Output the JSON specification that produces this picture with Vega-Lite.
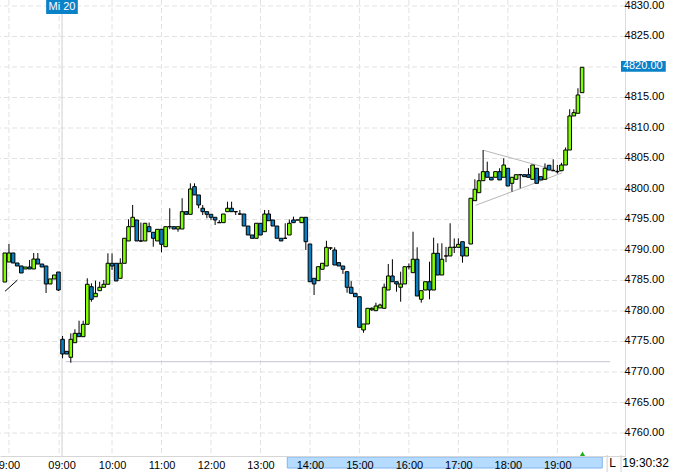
{
"$schema":"https://vega.github.io/schema/vega-lite/v6.json",
"width":625,"height":456,"autosize":"none",
"padding":{"left":0,"top":0,"right":50,"bottom":16},
"background":"white",
"config":{"view":{"stroke":null},"font":"Liberation Sans"},
"datasets":{
"hours":[{"g":-13},{"g":-0.84},{"g":12},{"g":24},{"g":36},{"g":48},{"g":60},{"g":72},{"g":84},{"g":96},{"g":108},{"g":120}],
"levels":[{"p":4760},{"p":4765},{"p":4770},{"p":4775},{"p":4780},{"p":4785},{"p":4790},{"p":4795},{"p":4800},{"p":4805},{"p":4810},{"p":4815},{"p":4820},{"p":4825},{"p":4830}],
"day":[{"d":-0.12}],
"hl":[{"x1":0.76,"x2":132.8,"y":4771.69}],
"lines":[{"k":"tri","x1":102.1,"y1":4806.34,"x2":121.1,"y2":4802.79},{"k":"tri","x1":100.2,"y1":4797.33,"x2":121.1,"y2":4802.62},{"k":"pen","x1":-13.96,"y1":4783.23,"x2":-10.93,"y2":4785.08}],
"candles":[
{"i":-14,"o":4784.75,"h":4789.51,"l":4784.75,"c":4789.51},
{"i":-13,"o":4788.03,"h":4790.98,"l":4788.03,"c":4789.51},
{"i":-12,"o":4789.51,"h":4789.51,"l":4787.87,"c":4787.87},
{"i":-11,"o":4787.87,"h":4787.87,"l":4787.38,"c":4787.38},
{"i":-10,"o":4787.38,"h":4787.38,"l":4786.23,"c":4786.23},
{"i":-9,"o":4786.89,"h":4787.21,"l":4786.89,"c":4787.21},
{"i":-8,"o":4787.21,"h":4788.36,"l":4786.89,"c":4786.89},
{"i":-7,"o":4786.89,"h":4789.51,"l":4786.89,"c":4788.52},
{"i":-6,"o":4788.52,"h":4789.51,"l":4787.7,"c":4787.7},
{"i":-5,"o":4787.7,"h":4787.7,"l":4787.21,"c":4787.21},
{"i":-4,"o":4787.38,"h":4787.38,"l":4782.95,"c":4784.43},
{"i":-3,"o":4784.43,"h":4785.25,"l":4784.43,"c":4785.25},
{"i":-2,"o":4785.25,"h":4785.9,"l":4785.25,"c":4785.9},
{"i":-1,"o":4786.39,"h":4786.39,"l":4783.28,"c":4783.44},
{"i":0,"o":4775.36,"h":4775.9,"l":4772.25,"c":4772.95},
{"i":1,"o":4773.39,"h":4773.39,"l":4772.95,"c":4772.95},
{"i":2,"o":4772.41,"h":4776.34,"l":4771.52,"c":4775.36},
{"i":3,"o":4774.8,"h":4777.0,"l":4774.8,"c":4776.34},
{"i":4,"o":4776.34,"h":4778.41,"l":4775.79,"c":4775.79},
{"i":5,"o":4775.79,"h":4778.41,"l":4775.79,"c":4777.82},
{"i":6,"o":4777.82,"h":4785.36,"l":4777.82,"c":4784.38},
{"i":7,"o":4783.98,"h":4784.54,"l":4781.52,"c":4781.92},
{"i":8,"o":4782.34,"h":4784.97,"l":4782.34,"c":4782.9},
{"i":9,"o":4783.33,"h":4784.8,"l":4783.33,"c":4783.89},
{"i":10,"o":4783.89,"h":4785.08,"l":4783.89,"c":4784.38},
{"i":11,"o":4784.38,"h":4789.46,"l":4784.38,"c":4787.82},
{"i":12,"o":4787.82,"h":4789.46,"l":4786.72,"c":4787.38},
{"i":13,"o":4787.82,"h":4787.82,"l":4784.92,"c":4784.92},
{"i":14,"o":4785.36,"h":4788.64,"l":4785.36,"c":4787.82},
{"i":15,"o":4787.82,"h":4791.92,"l":4787.82,"c":4791.92},
{"i":16,"o":4791.48,"h":4795.03,"l":4791.48,"c":4793.82},
{"i":17,"o":4793.82,"h":4797.38,"l":4793.82,"c":4795.36},
{"i":18,"o":4794.92,"h":4794.92,"l":4791.48,"c":4791.48},
{"i":19,"o":4791.48,"h":4794.5,"l":4791.3,"c":4791.48},
{"i":20,"o":4791.48,"h":4794.38,"l":4791.48,"c":4794.38},
{"i":21,"o":4793.82,"h":4794.5,"l":4793.0,"c":4793.0},
{"i":22,"o":4792.9,"h":4792.9,"l":4790.54,"c":4791.92},
{"i":23,"o":4791.48,"h":4793.39,"l":4791.48,"c":4793.39},
{"i":24,"o":4793.39,"h":4793.39,"l":4789.62,"c":4790.93},
{"i":25,"o":4790.54,"h":4793.82,"l":4790.54,"c":4793.82},
{"i":26,"o":4793.82,"h":4796.84,"l":4793.4,"c":4793.82},
{"i":27,"o":4793.82,"h":4793.82,"l":4793.44,"c":4793.44},
{"i":28,"o":4793.44,"h":4793.82,"l":4793.0,"c":4793.82},
{"i":29,"o":4793.44,"h":4798.48,"l":4793.44,"c":4796.28},
{"i":30,"o":4796.28,"h":4796.28,"l":4795.85,"c":4795.85},
{"i":31,"o":4795.85,"h":4800.93,"l":4795.85,"c":4800.0},
{"i":32,"o":4800.38,"h":4800.93,"l":4799.02,"c":4799.02},
{"i":33,"o":4799.02,"h":4799.02,"l":4796.84,"c":4797.38},
{"i":34,"o":4796.84,"h":4797.38,"l":4795.74,"c":4796.28},
{"i":35,"o":4796.28,"h":4796.28,"l":4795.2,"c":4795.85},
{"i":36,"o":4795.85,"h":4795.85,"l":4794.9,"c":4795.36},
{"i":37,"o":4795.36,"h":4795.36,"l":4794.1,"c":4794.92},
{"i":38,"o":4794.48,"h":4794.9,"l":4794.48,"c":4794.48},
{"i":39,"o":4794.48,"h":4795.9,"l":4794.48,"c":4795.9},
{"i":40,"o":4796.28,"h":4797.92,"l":4796.28,"c":4796.84},
{"i":41,"o":4796.84,"h":4797.92,"l":4796.28,"c":4796.28},
{"i":42,"o":4796.28,"h":4796.28,"l":4795.74,"c":4796.28},
{"i":43,"o":4795.9,"h":4796.56,"l":4795.74,"c":4795.9},
{"i":44,"o":4795.9,"h":4795.9,"l":4793.93,"c":4793.93},
{"i":45,"o":4793.93,"h":4793.93,"l":4792.46,"c":4792.46},
{"i":46,"o":4792.46,"h":4792.46,"l":4791.92,"c":4791.92},
{"i":47,"o":4791.92,"h":4794.38,"l":4791.92,"c":4794.38},
{"i":48,"o":4794.38,"h":4794.38,"l":4792.46,"c":4792.46},
{"i":49,"o":4793.0,"h":4796.56,"l":4793.0,"c":4795.9},
{"i":50,"o":4795.9,"h":4796.56,"l":4794.8,"c":4794.8},
{"i":51,"o":4794.92,"h":4794.92,"l":4793.93,"c":4793.93},
{"i":52,"o":4793.93,"h":4793.93,"l":4791.92,"c":4791.92},
{"i":53,"o":4791.92,"h":4791.92,"l":4791.48,"c":4791.48},
{"i":54,"o":4791.92,"h":4794.38,"l":4791.92,"c":4791.92},
{"i":55,"o":4792.46,"h":4795.0,"l":4792.46,"c":4794.38},
{"i":56,"o":4794.92,"h":4795.46,"l":4794.48,"c":4794.48},
{"i":57,"o":4794.92,"h":4794.92,"l":4794.92,"c":4794.92},
{"i":58,"o":4794.48,"h":4795.36,"l":4794.48,"c":4795.36},
{"i":59,"o":4795.36,"h":4795.36,"l":4790.0,"c":4791.36},
{"i":60,"o":4790.98,"h":4790.98,"l":4784.8,"c":4784.8},
{"i":61,"o":4785.36,"h":4785.36,"l":4782.62,"c":4784.43},
{"i":62,"o":4784.97,"h":4787.26,"l":4784.97,"c":4787.26},
{"i":63,"o":4786.84,"h":4787.82,"l":4786.84,"c":4787.82},
{"i":64,"o":4787.38,"h":4791.52,"l":4787.38,"c":4790.44},
{"i":65,"o":4790.33,"h":4790.44,"l":4790.0,"c":4790.33},
{"i":66,"o":4790.0,"h":4790.44,"l":4787.54,"c":4787.54},
{"i":67,"o":4787.92,"h":4787.92,"l":4787.38,"c":4787.38},
{"i":68,"o":4787.38,"h":4787.38,"l":4786.07,"c":4786.84},
{"i":69,"o":4786.44,"h":4786.44,"l":4783.0,"c":4783.89},
{"i":70,"o":4783.89,"h":4784.9,"l":4782.9,"c":4782.9},
{"i":71,"o":4782.9,"h":4782.9,"l":4782.34,"c":4782.34},
{"i":72,"o":4782.34,"h":4782.34,"l":4777.33,"c":4777.33},
{"i":73,"o":4776.89,"h":4777.87,"l":4776.44,"c":4777.87},
{"i":74,"o":4777.87,"h":4780.44,"l":4777.87,"c":4780.44},
{"i":75,"o":4780.2,"h":4780.6,"l":4780.0,"c":4780.44},
{"i":76,"o":4780.05,"h":4781.36,"l":4780.05,"c":4780.82},
{"i":77,"o":4780.5,"h":4781.2,"l":4780.5,"c":4780.98},
{"i":78,"o":4780.44,"h":4784.5,"l":4780.44,"c":4783.89},
{"i":79,"o":4783.44,"h":4787.7,"l":4783.44,"c":4785.74},
{"i":80,"o":4785.74,"h":4788.48,"l":4784.8,"c":4784.8},
{"i":81,"o":4784.8,"h":4784.8,"l":4783.16,"c":4784.43},
{"i":82,"o":4783.89,"h":4786.44,"l":4781.52,"c":4784.43},
{"i":83,"o":4784.43,"h":4787.26,"l":4784.43,"c":4787.26},
{"i":84,"o":4787.26,"h":4787.8,"l":4786.8,"c":4787.26},
{"i":85,"o":4786.28,"h":4793.0,"l":4786.28,"c":4788.48},
{"i":86,"o":4788.48,"h":4790.44,"l":4782.46,"c":4782.46},
{"i":87,"o":4781.92,"h":4783.33,"l":4781.36,"c":4783.33},
{"i":88,"o":4783.44,"h":4784.8,"l":4783.44,"c":4784.8},
{"i":89,"o":4784.8,"h":4788.08,"l":4781.92,"c":4783.44},
{"i":90,"o":4783.44,"h":4792.02,"l":4783.44,"c":4789.46},
{"i":91,"o":4789.46,"h":4791.1,"l":4785.9,"c":4785.9},
{"i":92,"o":4785.9,"h":4791.1,"l":4785.9,"c":4788.48},
{"i":93,"o":4789.02,"h":4790.5,"l":4788.0,"c":4789.02},
{"i":94,"o":4789.02,"h":4794.38,"l":4789.02,"c":4790.44},
{"i":95,"o":4790.44,"h":4791.9,"l":4789.5,"c":4790.44},
{"i":96,"o":4790.44,"h":4791.92,"l":4790.44,"c":4790.93},
{"i":97,"o":4791.36,"h":4791.36,"l":4787.92,"c":4789.02},
{"i":98,"o":4789.02,"h":4790.44,"l":4789.02,"c":4790.44},
{"i":99,"o":4790.98,"h":4798.48,"l":4790.98,"c":4798.48},
{"i":100,"o":4798.08,"h":4801.59,"l":4798.08,"c":4799.95},
{"i":101,"o":4799.39,"h":4802.57,"l":4799.39,"c":4801.36},
{"i":102,"o":4801.36,"h":4806.39,"l":4801.36,"c":4802.84},
{"i":103,"o":4802.84,"h":4804.48,"l":4801.92,"c":4801.92},
{"i":104,"o":4801.92,"h":4801.92,"l":4801.48,"c":4801.48},
{"i":105,"o":4801.92,"h":4802.84,"l":4801.92,"c":4802.84},
{"i":106,"o":4802.84,"h":4803.4,"l":4801.48,"c":4801.48},
{"i":107,"o":4801.92,"h":4805.03,"l":4801.92,"c":4803.93},
{"i":108,"o":4803.39,"h":4803.39,"l":4800.49,"c":4800.49},
{"i":109,"o":4800.93,"h":4801.92,"l":4799.56,"c":4801.92},
{"i":110,"o":4801.59,"h":4802.34,"l":4801.59,"c":4802.34},
{"i":111,"o":4802.34,"h":4802.34,"l":4800.11,"c":4802.34},
{"i":112,"o":4802.34,"h":4802.34,"l":4802.02,"c":4802.02},
{"i":113,"o":4802.34,"h":4803.4,"l":4801.92,"c":4801.92},
{"i":114,"o":4801.59,"h":4803.93,"l":4801.59,"c":4803.93},
{"i":115,"o":4803.39,"h":4803.39,"l":4800.93,"c":4800.93},
{"i":116,"o":4802.02,"h":4802.02,"l":4801.48,"c":4801.48},
{"i":117,"o":4801.59,"h":4804.2,"l":4801.59,"c":4803.39},
{"i":118,"o":4803.89,"h":4803.89,"l":4803.11,"c":4803.11},
{"i":119,"o":4803.0,"h":4804.87,"l":4803.0,"c":4803.0},
{"i":120,"o":4802.84,"h":4803.93,"l":4802.5,"c":4802.84},
{"i":121,"o":4803.0,"h":4804.3,"l":4803.0,"c":4803.93},
{"i":122,"o":4803.93,"h":4806.8,"l":4803.93,"c":4806.39},
{"i":123,"o":4806.39,"h":4813.07,"l":4806.39,"c":4811.97},
{"i":124,"o":4811.97,"h":4813.07,"l":4811.97,"c":4812.51},
{"i":125,"o":4812.41,"h":4816.51,"l":4812.41,"c":4815.41},
{"i":126,"o":4815.79,"h":4819.95,"l":4815.79,"c":4819.95}
],
"boxes":[{"x1":-3.98,"x2":3.7,"y1":4828.69,"y2":4830.98},{"x1":135.44,"x2":146.3,"y1":4819.23,"y2":4820.98}],
"band":[{"x1":54.5,"x2":130.9,"y1":4754.26,"y2":4756.07}],
"seps":[{"x":132.07,"y1":4753.61,"y2":4756.39},{"x":135.44,"y1":4753.61,"y2":4756.39}],
"ctext":[{"t":"Mi 20","x":-0.14,"y":4829.84}],
"ltext":[{"t":"4820.00","x":135.9,"y":4820.1}],
"btext":[{"t":"L","x":133.4,"y":4755.08},{"t":"19:30:32","x":141.4,"y":4755.08}],
"marker":[{"x":126.1,"y":4756.56}]
},
"layer":[
{"data":{"name":"levels"},"mark":{"type":"rule","stroke":"#e2e2e2","strokeDash":[5,3],"strokeWidth":1},
 "encoding":{"y":{"field":"p","type":"quantitative","title":null,"scale":{"domain":[4756.23,4830.98],"nice":false,"zero":false},
   "axis":{"orient":"right","values":[4760,4765,4770,4775,4780,4785,4790,4795,4800,4805,4810,4815,4820,4825,4830],
    "labels":false,"grid":false,"domain":true,"domainColor":"#dcdcdc","ticks":true,"tickSize":4,"tickColor":"#cfcfcf"}}}},
{"data":{"name":"hours"},"mark":{"type":"rule","stroke":"#e2e2e2","strokeDash":[5,3],"strokeWidth":1},
 "encoding":{"x":{"field":"g","type":"quantitative","title":null,"scale":{"domain":[-13.96,135.2],"nice":false,"zero":false},
  "axis":{"values":[-13,-0.24,12,24,36,48,60,72,84,96,108,120],"grid":false,"ticks":false,"domain":true,"domainColor":"#d6d6d6",
   "labelExpr":"datum.value < -5 ? '9:00' : datum.value < 6 ? '09:00' : (round(datum.value/12)+9) + ':00'",
   "labelFont":"Liberation Sans","labelFontSize":11,"labelColor":"#000000","labelPadding":3,"labelOverlap":false,"labelFlush":false,"labelBound":false,"zindex":1}}}},
{"data":{"name":"levels"},"transform":[{"filter":"datum.p != 4820"}],"mark":{"type":"text","color":"#000000","font":"Liberation Sans","fontSize":11,"baseline":"middle","align":"left"},
 "encoding":{"x":{"datum":136.3,"type":"quantitative"},"y":{"field":"p","type":"quantitative","title":null},"text":{"field":"p","type":"quantitative","format":".2f"}}},
{"data":{"name":"day"},"mark":{"type":"rule","stroke":"#d8d8d8","strokeWidth":1.2},
 "encoding":{"x":{"field":"d","type":"quantitative","title":null}}},
{"data":{"name":"hl"},"mark":{"type":"rule","stroke":"#c6c4da","strokeWidth":1},
 "encoding":{"x":{"field":"x1","type":"quantitative","title":null},"x2":{"field":"x2"},"y":{"field":"y","type":"quantitative","title":null}}},
{"data":{"name":"lines"},"mark":{"type":"rule","strokeWidth":1},
 "encoding":{"x":{"field":"x1","type":"quantitative","title":null},"x2":{"field":"x2"},"y":{"field":"y1","type":"quantitative","title":null},"y2":{"field":"y2"},
  "color":{"field":"k","type":"nominal","scale":{"domain":["tri","pen"],"range":["#b8b8b8","#000000"]},"legend":null}}},
{"data":{"name":"candles"},"mark":{"type":"rule","stroke":"#000000","strokeWidth":1},
 "encoding":{"x":{"field":"i","type":"quantitative","title":null},"y":{"field":"l","type":"quantitative","title":null},"y2":{"field":"h"}}},
{"data":{"name":"candles"},"mark":{"type":"bar","size":3.6,"stroke":"#000000","strokeWidth":1},
 "encoding":{"x":{"field":"i","type":"quantitative","title":null},"y":{"field":"o","type":"quantitative","title":null},"y2":{"field":"c"},
  "fill":{"condition":{"test":"datum.c < datum.o","value":"#0a80c4"},"value":"#80ff00"}}},
{"data":{"name":"boxes"},"mark":{"type":"rect","fill":"#0a82c8"},
 "encoding":{"x":{"field":"x1","type":"quantitative","title":null},"x2":{"field":"x2"},"y":{"field":"y1","type":"quantitative","title":null},"y2":{"field":"y2"}}},
{"data":{"name":"band"},"mark":{"type":"rect","fill":"#b5dbff","stroke":"#80b4ee","strokeWidth":1},
 "encoding":{"x":{"field":"x1","type":"quantitative","title":null},"x2":{"field":"x2"},"y":{"field":"y1","type":"quantitative","title":null},"y2":{"field":"y2"}}},
{"data":{"name":"seps"},"mark":{"type":"rule","stroke":"#d0d0d0","strokeWidth":1},
 "encoding":{"x":{"field":"x","type":"quantitative","title":null},"y":{"field":"y1","type":"quantitative","title":null},"y2":{"field":"y2"}}},
{"data":{"name":"ctext"},"mark":{"type":"text","color":"#ffffff","font":"Liberation Sans","fontSize":11,"baseline":"middle","align":"center"},
 "encoding":{"x":{"field":"x","type":"quantitative","title":null},"y":{"field":"y","type":"quantitative","title":null},"text":{"field":"t"}}},
{"data":{"name":"ltext"},"mark":{"type":"text","color":"#ffffff","font":"Liberation Sans","fontSize":11,"baseline":"middle","align":"left"},
 "encoding":{"x":{"field":"x","type":"quantitative","title":null},"y":{"field":"y","type":"quantitative","title":null},"text":{"field":"t"}}},
{"data":{"name":"btext"},"mark":{"type":"text","color":"#000000","font":"Liberation Sans","fontSize":12,"baseline":"middle","align":"center"},
 "encoding":{"x":{"field":"x","type":"quantitative","title":null},"y":{"field":"y","type":"quantitative","title":null},"text":{"field":"t"}}},
{"data":{"name":"marker"},"mark":{"type":"point","shape":"triangle-up","filled":true,"size":30,"color":"#22b022","opacity":1},
 "encoding":{"x":{"field":"x","type":"quantitative","title":null},"y":{"field":"y","type":"quantitative","title":null}}}
]
}
